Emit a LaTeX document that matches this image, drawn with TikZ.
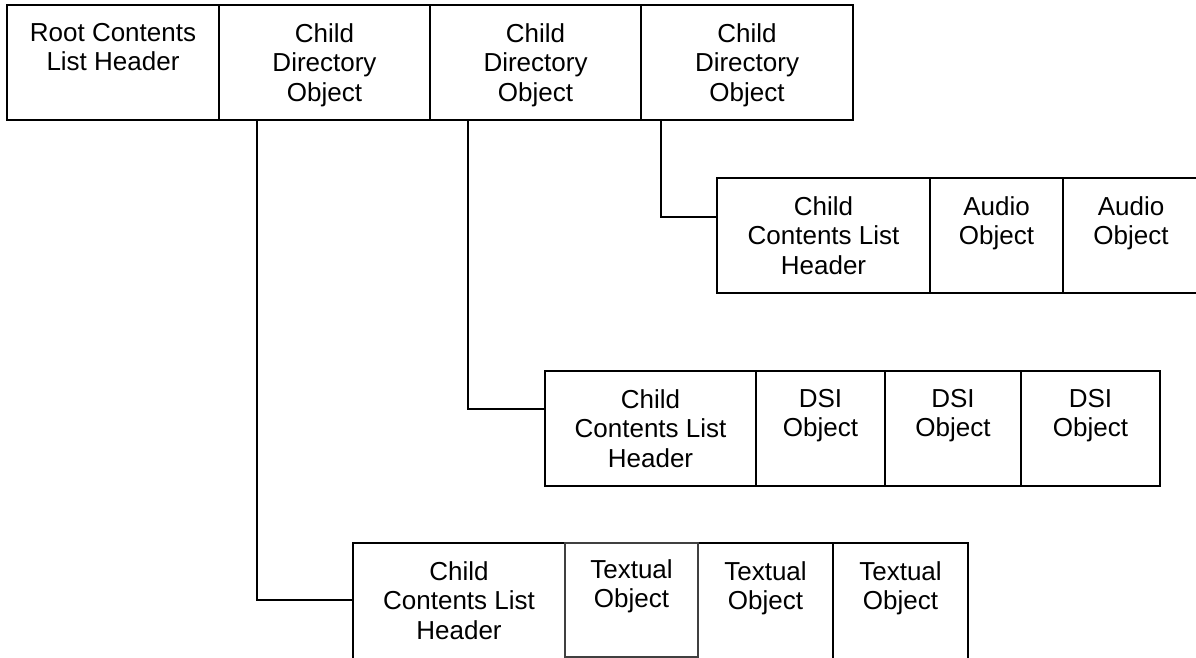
\documentclass[tikz,border=0pt]{standalone}
\usepackage{fontspec}
\setmainfont{Liberation Sans}
\begin{document}
\begin{tikzpicture}[x=1pt,y=-1pt,
  cell/.style={draw=black, line width=1.6pt, rectangle, inner sep=0pt, outer sep=0pt},
  lbl/.style={anchor=north, align=center, inner sep=0pt,
    font=\fontsize{26}{29.5}\selectfont},
  link/.style={draw=black, line width=1.6pt, line join=miter}]
\useasboundingbox (0,0) rectangle (1196,658);

% root contents list
\node[cell, minimum width=212pt, minimum height=115pt] (r0) at (113,62.5) {};
\node[cell, minimum width=211pt, minimum height=115pt] (r1) at (324.5,62.5) {};
\node[cell, minimum width=211pt, minimum height=115pt] (r2) at (535.5,62.5) {};
\node[cell, minimum width=212pt, minimum height=115pt] (r3) at (747,62.5) {};
\node[lbl] (r0t) at ([yshift=-18pt]r0.north) {Root Contents\\List Header};
\node[lbl] (r1t) at ([yshift=-18pt]r1.north) {Child\\Directory\\Object};
\node[lbl] (r2t) at ([yshift=-18pt]r2.north) {Child\\Directory\\Object};
\node[lbl] (r3t) at ([yshift=-18pt]r3.north) {Child\\Directory\\Object};

% audio contents list
\node[cell, minimum width=213pt, minimum height=115pt] (a0) at (823.5,235.5) {};
\node[cell, minimum width=133pt, minimum height=115pt] (a1) at (996.5,235.5) {};
\node[cell, minimum width=136pt, minimum height=115pt] (a2) at (1131,235.5) {};
\node[lbl] (a0t) at ([yshift=-18pt]a0.north) {Child\\Contents List\\Header};
\node[lbl] (a1t) at ([yshift=-18pt]a1.north) {Audio\\Object};
\node[lbl] (a2t) at ([yshift=-18pt]a2.north) {Audio\\Object};

% DSI contents list
\node[cell, minimum width=211pt, minimum height=115pt] (d0) at (650.5,428.5) {};
\node[cell, minimum width=129pt, minimum height=115pt] (d1) at (820.5,428.5) {};
\node[cell, minimum width=136pt, minimum height=115pt] (d2) at (953,428.5) {};
\node[cell, minimum width=139pt, minimum height=115pt] (d3) at (1090.5,428.5) {};
\node[lbl] (d0t) at ([yshift=-18pt]d0.north) {Child\\Contents List\\Header};
\node[lbl] (d1t) at ([yshift=-18pt]d1.north) {DSI\\Object};
\node[lbl] (d2t) at ([yshift=-18pt]d2.north) {DSI\\Object};
\node[lbl] (d3t) at ([yshift=-18pt]d3.north) {DSI\\Object};

% textual contents list
\node[cell, minimum width=212pt, minimum height=118pt] (t0) at (459,602) {};
\node[cell, minimum width=135pt, minimum height=118pt] (t2) at (765.5,602) {};
\node[cell, minimum width=135pt, minimum height=118pt] (t3) at (900.5,602) {};
\node[cell, draw=black!75, line width=1.3pt, fill=white,
      minimum width=133pt, minimum height=114pt] (t1) at (631.5,600) {};
\node[lbl] (t0t) at ([yshift=-18pt]t0.north) {Child\\Contents List\\Header};
\node[lbl] (t1t) at ([yshift=-16pt]t1.north) {Textual\\Object};
\node[lbl] (t2t) at ([yshift=-18pt]t2.north) {Textual\\Object};
\node[lbl] (t3t) at ([yshift=-18pt]t3.north) {Textual\\Object};

% links from each child directory object to its contents list
\coordinate (c1) at (257,120);
\coordinate (c2) at (468,120);
\coordinate (c3) at (661,120);
\draw[link] (c1) |- (t0.west |- 0,600);
\draw[link] (c2) |- (d0.west |- 0,409);
\draw[link] (c3) |- (a0.west |- 0,217);
\end{tikzpicture}
\end{document}
